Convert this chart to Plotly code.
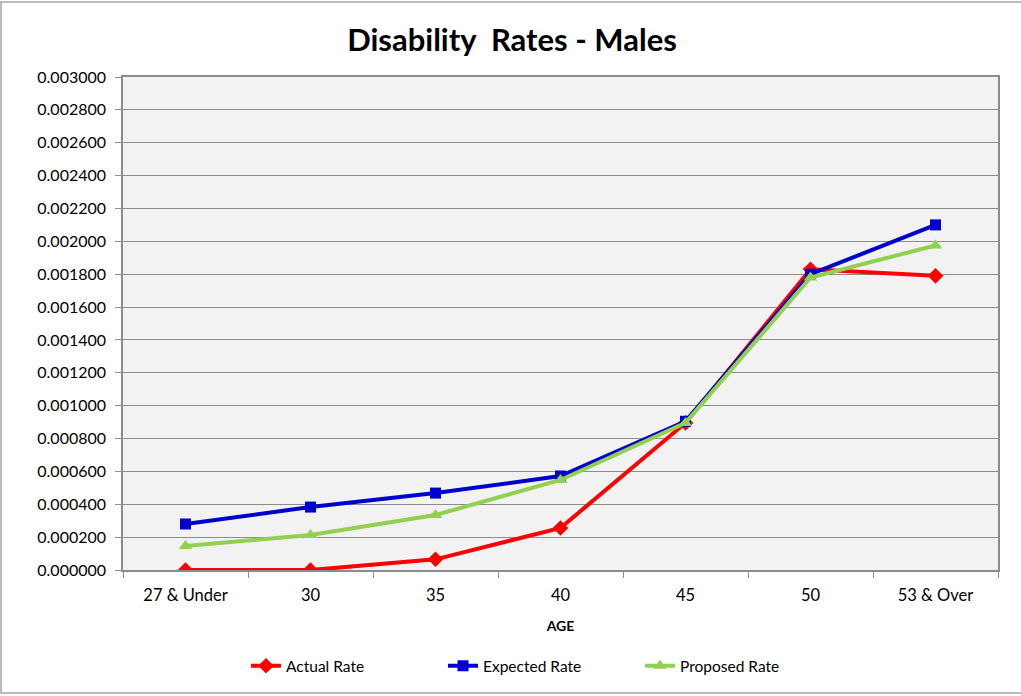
import plotly.graph_objects as go

categories = ["27 & Under", "30", "35", "40", "45", "50", "53 & Over"]
actual_rate = [0.000000, 0.000000, 0.000065, 0.000256, 0.000895, 0.001830, 0.001790]
expected_rate = [0.000280, 0.000383, 0.000468, 0.000572, 0.000905, 0.001800, 0.002100]
proposed_rate = [0.000146, 0.000213, 0.000335, 0.000548, 0.000895, 0.001780, 0.001975]
y_ticks = [i * 0.0002 for i in range(16)]

FONT = "Lato"
fig = go.Figure()
fig.add_trace(go.Scatter(x=categories, y=actual_rate, name="Actual Rate", mode="lines+markers",
                         line=dict(color="#FF0000", width=4),
                         marker=dict(symbol="diamond", size=12, color="#FF0000")))
fig.add_trace(go.Scatter(x=categories, y=expected_rate, name="Expected Rate", mode="lines+markers",
                         line=dict(color="#0000CC", width=4),
                         marker=dict(symbol="square", size=11, color="#0000CC")))
fig.add_trace(go.Scatter(x=categories, y=proposed_rate, name="Proposed Rate", mode="lines+markers",
                         line=dict(color="#92D050", width=4),
                         marker=dict(symbol="triangle-up", size=12, color="#92D050")))

fig.update_layout(
    width=1021, height=696,
    margin=dict(l=123, r=23, t=77, b=126),
    paper_bgcolor="white", plot_bgcolor="#F2F2F2",
    font=dict(family=FONT, size=15, color="black"),
    title=dict(text="<b>Disability\u00a0 Rates - Males</b>", x=512 / 1021, xref="container", xanchor="center",
               y=1 - 40 / 696, yref="container", yanchor="middle",
               font=dict(family=FONT, size=31, color="black")),
    showlegend=True,
    legend=dict(orientation="h", x=(246 - 123) / 875, xanchor="left", y=-0.195, yanchor="middle",
                font=dict(family=FONT, size=15.5, color="black"), bgcolor="rgba(0,0,0,0)",
                entrywidth=152, traceorder="normal"),
    xaxis=dict(type="category", tickson="boundaries", ticks="outside", ticklen=6,
               tickcolor="#8C8C8C", showline=True, linecolor="#8C8C8C", linewidth=1.5,
               mirror=True, showgrid=False, range=[-0.5, 6.5], ticklabelstandoff=9,
               tickfont=dict(family=FONT, size=16.5),
               title=dict(text="<b>AGE</b>", font=dict(family=FONT, size=14), standoff=18)),
    yaxis=dict(range=[0, 0.003], tickvals=y_ticks, tickformat=".6f", ticks="outside", ticklen=6,
               tickcolor="#8C8C8C", showline=True, linecolor="#8C8C8C", linewidth=1.5,
               mirror=True, showgrid=True, gridcolor="#8C8C8C", gridwidth=1, zeroline=False,
               ticklabelstandoff=6,
               tickfont=dict(family=FONT, size=16)),
)

fig.add_shape(type="rect", xref="paper", yref="paper",
              x0=(1 - 123) / 875, x1=(1030 - 123) / 875,
              y0=(570 - 693) / 493, y1=(570 - 2) / 493,
              line=dict(color="#A6A6A6", width=1.5), fillcolor="rgba(0,0,0,0)", layer="below")

fig.write_html("out.html")
